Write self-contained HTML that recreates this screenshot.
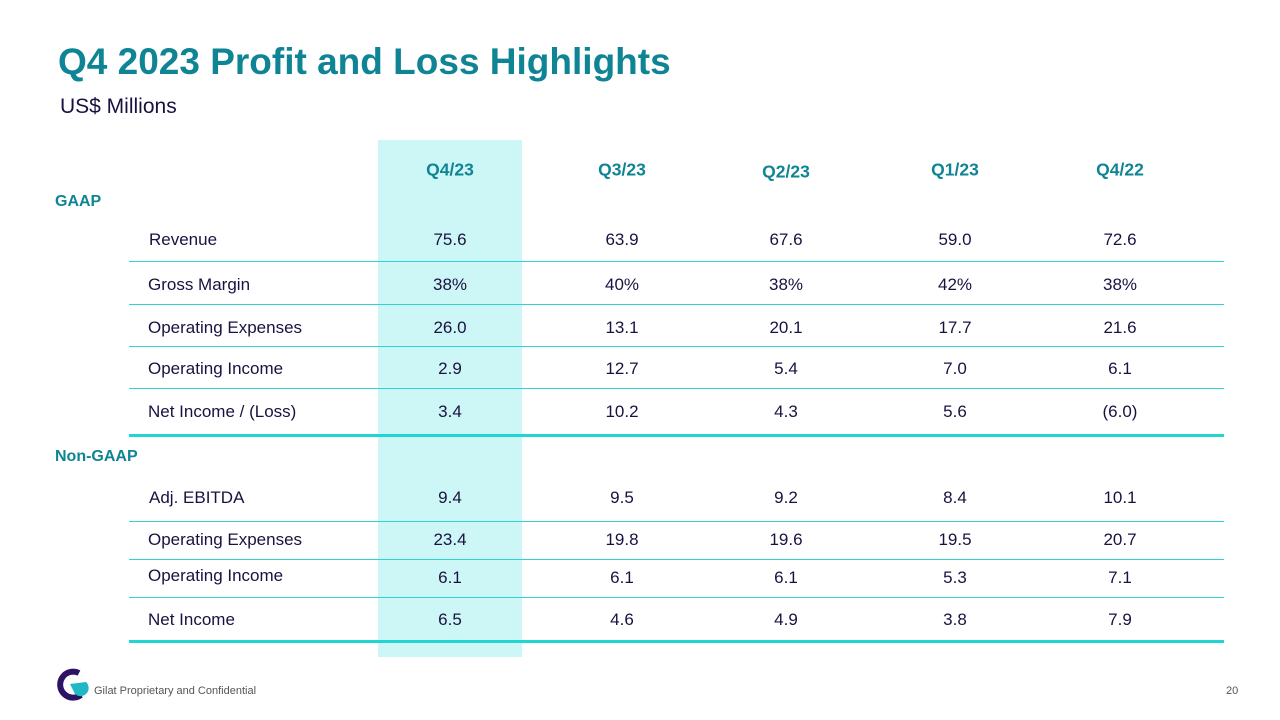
<!DOCTYPE html>
<html><head><meta charset="utf-8"><style>
body{margin:0;width:1280px;height:720px;background:#fff;position:relative;overflow:hidden;font-family:"Liberation Sans",sans-serif;color:#1b1140}
.a{position:absolute;white-space:nowrap}
.t{left:58px;top:41px;font-size:37px;font-weight:bold;color:#0e8494}
.s{left:60px;top:95px;font-size:21px;color:#1b1140}
.hl{left:378px;top:140px;width:144px;height:517px;background:#cdf7f6}
.sec{font-size:16px;font-weight:bold;color:#0e8494}
.hd{font-size:17.5px;font-weight:bold;color:#0e8494;transform:translate(-50%,-50%)}
.v{font-size:17px;transform:translate(-50%,-50%)}
.l{font-size:17px;transform:translateY(-50%)}
.ln{left:129px;width:1095px;height:1px;background:#2fd3d0}
.th{height:3px;background:#20d6d2}
</style></head><body>
<div class="a t">Q4 2023 Profit and Loss Highlights</div>
<div class="a s">US$ Millions</div>
<div class="a hl"></div>
<div class="a sec" style="left:55px;top:193px">GAAP</div>
<div class="a sec" style="left:55px;top:448px">Non-GAAP</div>
<div id="tbl"></div>
<svg class="a" style="left:57px;top:668px" width="32" height="34">
<path d="M22 5 A13 13 0 1 0 24 27" fill="none" stroke="#2a1463" stroke-width="6"/>
<path d="M13 16 L29 14 A8 8 0 0 1 18 26 Z" fill="#1fb8c4"/>
</svg>
<div class="a" style="left:94px;top:685px;font-size:11px;color:#555">Gilat Proprietary and Confidential</div>
<div class="a" style="left:1226px;top:685px;font-size:11px;color:#555">20</div>
<script>
const periods=["Q4/23","Q3/23","Q2/23","Q1/23","Q4/22"];
const gaapLabels=["Revenue","Gross Margin","Operating Expenses","Operating Income","Net Income / (Loss)"];
const gaapValues=[["75.6","63.9","67.6","59.0","72.6"],["38%","40%","38%","42%","38%"],["26.0","13.1","20.1","17.7","21.6"],["2.9","12.7","5.4","7.0","6.1"],["3.4","10.2","4.3","5.6","(6.0)"]];
const nonGaapLabels=["Adj. EBITDA","Operating Expenses","Operating Income","Net Income"];
const nonGaapValues=[["9.4","9.5","9.2","8.4","10.1"],["23.4","19.8","19.6","19.5","20.7"],["6.1","6.1","6.1","5.3","7.1"],["6.5","4.6","4.9","3.8","7.9"]];
const colX=[450,622,786,955,1120];
const gaapY=[240,285,328,369,412], gaapLines=[261,304,346,388,434];
const ngY=[498,540,578,620], ngLines=[521,559,597,640];
const T=document.getElementById('tbl');
function add(cls,txt,x,y,name){const d=document.createElement('div');d.className='a '+cls;d.textContent=txt;d.style.left=x+'px';d.style.top=y+'px';


T.appendChild(d);return d;}
periods.forEach((p,i)=>add('hd',p,colX[i],i==2?172:170,'header-'+p.replace('/','-').toLowerCase()));
function block(labels,vals,ys,lines,pre){labels.forEach((lb,r)=>{add('l',lb,r==0?149:148,ys[r]+(pre=='ng'&&r==2?-2:0),pre+'-label-'+r);
vals[r].forEach((v,c)=>add('v',v,colX[c],ys[r],pre+'-value-'+r+'-'+c));
const l=document.createElement('div');l.className='a ln'+(r==labels.length-1?' th':'');l.style.top=lines[r]+'px';


T.appendChild(l);});}
block(gaapLabels,gaapValues,gaapY,gaapLines,'gaap');
block(nonGaapLabels,nonGaapValues,ngY,ngLines,'ng');
</script>
</body></html>
